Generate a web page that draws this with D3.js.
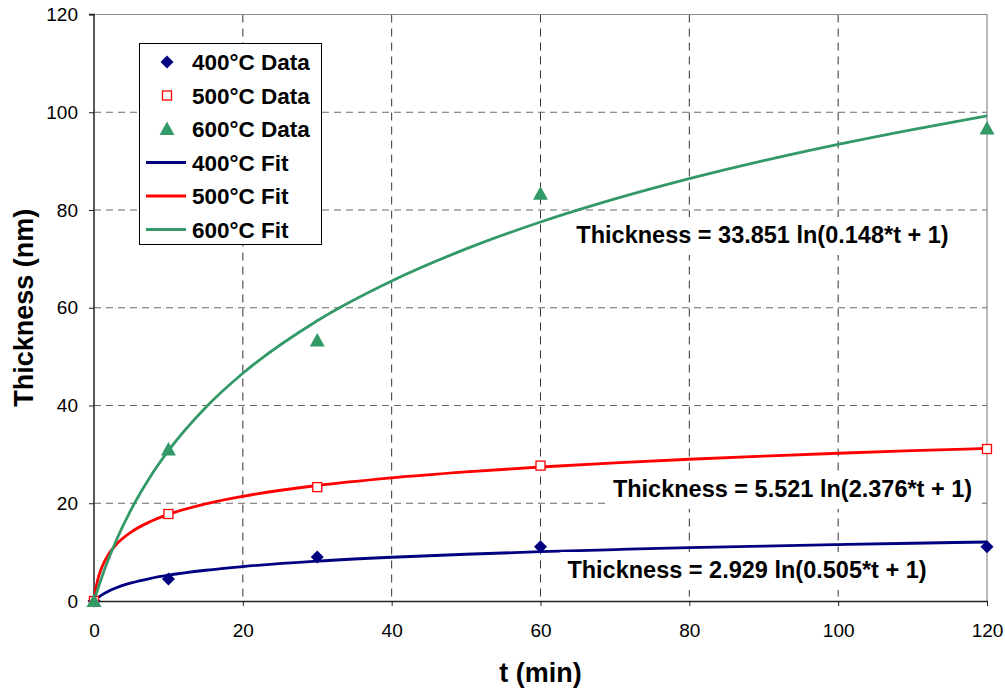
<!DOCTYPE html>
<html>
<head>
<meta charset="utf-8">
<script src="https://cdn.jsdelivr.net/npm/d3@7"></script>
<style>
html,body{margin:0;padding:0;background:#fff;}
svg{display:block;font-family:"Liberation Sans",Arial,sans-serif;}
</style>
</head>
<body>
<svg id="chart" width="1005" height="691"></svg>
<script>
// ---- data ----
const dataT = [0, 10, 30, 60, 120];
const data400 = [0, 4.5, 9.0, 11.1, 11.1];
const data500 = [0, 17.8, 23.3, 27.7, 31.1];
const data600 = [0, 31.0, 53.3, 83.3, 96.7];

// fit curves
const fitT = [0, 0.25, 0.5, 1, 2, 3, 5, 7.5, 10, 15, 20, 30, 40, 50, 60, 70, 80, 90, 100, 110, 120];
const fit400 = [0, 0.34, 0.66, 1.20, 2.05, 2.70, 3.69, 4.59, 5.27, 6.29, 7.05, 8.15, 8.95, 9.57, 10.09, 10.52, 10.91, 11.24, 11.55, 11.82, 12.07];
const fit500 = [0, 2.57, 4.32, 6.72, 9.66, 11.57, 14.11, 16.20, 17.72, 19.88, 21.43, 23.63, 25.20, 26.42, 27.42, 28.27, 29.00, 29.65, 30.23, 30.75, 31.23];
const fit600 = [0, 1.20, 2.37, 4.67, 8.78, 12.44, 18.75, 25.28, 30.75, 39.59, 46.59, 57.34, 65.48, 72.04, 77.54, 82.26, 86.41, 90.10, 93.43, 96.46, 99.24];

const xTicks = [0, 20, 40, 60, 80, 100, 120];
const yTicks = [0, 20, 40, 60, 80, 100, 120];

const legendLabels = ["400°C Data", "500°C Data", "600°C Data", "400°C Fit", "500°C Fit", "600°C Fit"];
const equations = [
  "Thickness = 33.851 ln(0.148*t + 1)",
  "Thickness = 5.521 ln(2.376*t + 1)",
  "Thickness = 2.929 ln(0.505*t + 1)"
];
const colors = ["#000080", "#FF0000", "#339966"];

// ---- layout ----
const svg = d3.select("#chart");
const L = 94, R = 987, T = 14.5, B = 601;
const x = d3.scaleLinear().domain([0, 120]).range([L, R]);
const y = d3.scaleLinear().domain([0, 120]).range([B, T]);

// grid
svg.append("g").selectAll("line").data(yTicks.filter(d => d > 0 && d < 120)).join("line")
  .attr("x1", L).attr("x2", R).attr("y1", d => y(d)).attr("y2", d => y(d))
  .attr("stroke", "#6a6a6a").attr("stroke-width", 1).attr("stroke-dasharray", "7,5");
svg.append("g").selectAll("line").data(xTicks.filter(d => d > 0 && d < 120)).join("line")
  .attr("y1", T).attr("y2", B).attr("x1", d => x(d)).attr("x2", d => x(d))
  .attr("stroke", "#333").attr("stroke-width", 1).attr("stroke-dasharray", "8,6");

// top & right border
svg.append("path").attr("d", `M${L},${T}H${R}V${B}`).attr("fill", "none").attr("stroke", "#8c8c8c").attr("stroke-width", 1.2);

// axes
const xAxis = svg.append("g").attr("transform", `translate(0,${B})`)
  .call(d3.axisBottom(x).tickValues(xTicks).tickSize(5).tickSizeOuter(0).tickPadding(18));
const yAxis = svg.append("g").attr("transform", `translate(${L},0)`)
  .call(d3.axisLeft(y).tickValues(yTicks).tickSize(5).tickSizeOuter(0).tickPadding(11));
[xAxis, yAxis].forEach(a => {
  a.select(".domain").attr("stroke", "#222").attr("stroke-width", 1.5);
  a.selectAll(".tick line").attr("stroke", "#222").attr("stroke-width", 1);
  a.selectAll("text").attr("font-family", "Liberation Sans, Arial, sans-serif").attr("font-size", 19).attr("fill", "#000");
});
yAxis.select(".domain").attr("d", `M-5,${T}H0V${B}`);

// axis titles
svg.append("text").attr("x", x(60)).attr("y", 682).attr("text-anchor", "middle")
  .attr("font-size", 27).attr("font-weight", "bold").text("t (min)");
svg.append("text").attr("transform", `translate(33,${(T + B) / 2}) rotate(-90)`).attr("text-anchor", "middle")
  .attr("font-size", 27).attr("font-weight", "bold").text("Thickness (nm)");

// fit lines
const line = d3.line().x(d => x(d[0])).y(d => y(d[1])).curve(d3.curveMonotoneX);
[fit400, fit500, fit600].forEach((f, i) => {
  svg.append("path").datum(fitT.map((t, k) => [t, f[k]]))
    .attr("d", line).attr("fill", "none").attr("stroke", colors[i]).attr("stroke-width", 2.8);
});

// markers
function drawMarker(g, type, cx, cy) {
  if (type === 0) {
    g.append("path").attr("d", `M${cx},${cy - 6.5}L${cx + 6.5},${cy}L${cx},${cy + 6.5}L${cx - 6.5},${cy}Z`).attr("fill", colors[0]);
  } else if (type === 1) {
    g.append("rect").attr("x", cx - 4.5).attr("y", cy - 4.5).attr("width", 9).attr("height", 9)
      .attr("fill", "#fff").attr("stroke", colors[1]).attr("stroke-width", 1.3);
  } else {
    g.append("path").attr("d", `M${cx},${cy - 7.5}L${cx + 7.5},${cy + 6}L${cx - 7.5},${cy + 6}Z`).attr("fill", colors[2]);
  }
}
const mg = svg.append("g");
[data400, data500, data600].forEach((s, i) => {
  dataT.forEach((t, k) => drawMarker(mg, i, x(t), y(s[k])));
});

// equation labels (center x, baseline y)
const eqPos = [[762.5, 243], [792.5, 497], [747, 578]];
equations.forEach((txt, i) => {
  const g = svg.append("g");
  const t = g.append("text").attr("x", eqPos[i][0]).attr("y", eqPos[i][1]).attr("text-anchor", "middle")
    .attr("font-size", 23.5).attr("font-weight", "bold").text(txt);
  const bb = t.node().getBBox();
  g.insert("rect", "text").attr("x", bb.x - 7).attr("y", eqPos[i][1] - 26).attr("width", bb.width + 14).attr("height", 38).attr("fill", "#fff");
});

// legend
const lg = svg.append("g");
lg.append("rect").attr("x", 139.5).attr("y", 43.5).attr("width", 182).attr("height", 201)
  .attr("fill", "#fff").attr("stroke", "#000").attr("stroke-width", 1);
legendLabels.forEach((lab, i) => {
  const cy = 62 + i * 33.5;
  if (i < 3) drawMarker(lg, i, 167, cy);
  else lg.append("line").attr("x1", 146).attr("x2", 186).attr("y1", cy).attr("y2", cy)
    .attr("stroke", colors[i - 3]).attr("stroke-width", 2.8);
  lg.append("text").attr("x", 192).attr("y", cy + 8).attr("font-size", 22.5).attr("font-weight", "bold").text(lab);
});
</script>
</body>
</html>
